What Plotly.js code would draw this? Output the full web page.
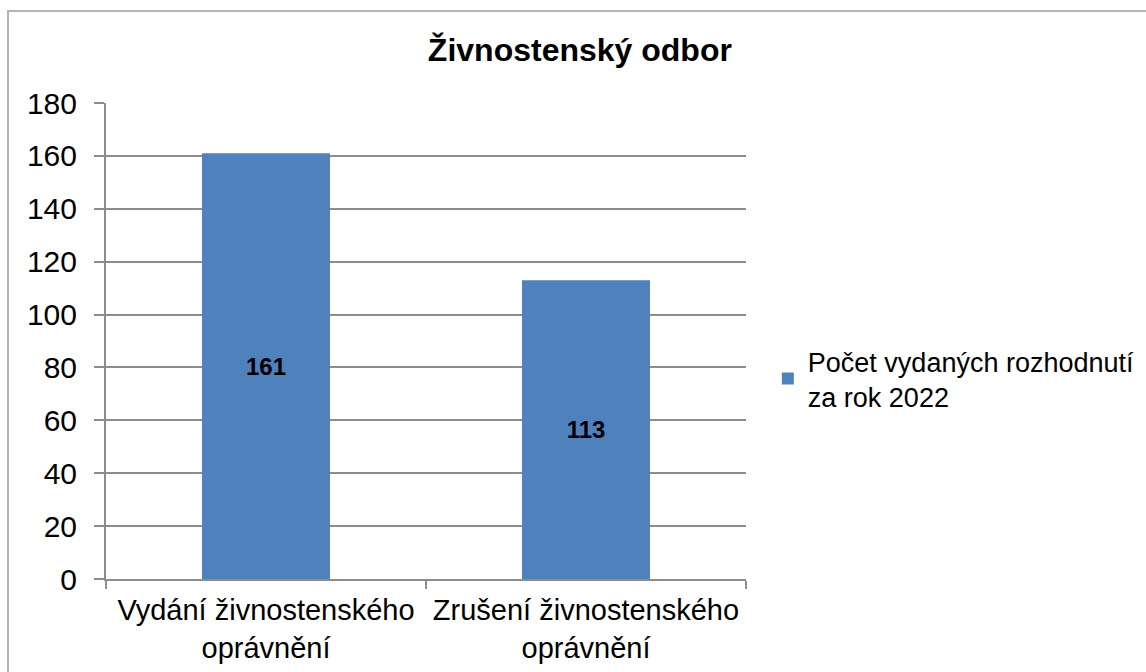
<!DOCTYPE html>
<html>
<head>
<meta charset="utf-8">
<script src="https://cdn.plot.ly/plotly-3.0.1.min.js"></script>
<style>
  html, body { margin: 0; padding: 0; background: #ffffff; }
  #chart { position: absolute; left: 0; top: 0; width: 1146px; height: 672px; }
  #frame { position: absolute; left: 7px; top: 10px; width: 1200px; height: 720px;
           border: 2px solid #b4b4b4; pointer-events: none; box-sizing: border-box; }
</style>
</head>
<body>
<div id="chart"></div>
<div id="frame"></div>
<script>
const categories = ["Vydání živnostenského<br>oprávnění", "Zrušení živnostenského<br>oprávnění"];
const values = [161, 113];
const seriesName = "Počet vydaných rozhodnutí<br>za rok 2022";
const chartTitle = "Živnostenský odbor";

const FONT = "Liberation Sans, Arial, sans-serif";

const trace = {
  type: "bar",
  x: categories,
  y: values,
  name: seriesName,
  marker: { color: "#4F81BD" },
  texttemplate: "<b>%{y}</b>",
  textposition: "inside",
  insidetextanchor: "middle",
  textangle: 0,
  textfont: { family: FONT, size: 24, color: "#000000" },
  hoverinfo: "none",
  showlegend: true
};

const layout = {
  width: 1146,
  height: 672,
  paper_bgcolor: "rgba(0,0,0,0)",
  plot_bgcolor: "#ffffff",
  margin: { l: 106, r: 400, t: 103, b: 93, pad: 0, autoexpand: false },
  font: { family: FONT, color: "#000000" },
  title: {
    text: "<b>" + chartTitle + "</b>",
    font: { family: FONT, size: 32, color: "#000000" },
    x: 0.506, xanchor: "center", xref: "container",
    y: 0.9256, yanchor: "middle", yref: "container"
  },
  bargap: 0.6,
  xaxis: {
    type: "category",
    showgrid: false,
    showline: true,
    linecolor: "#8c8c8c",
    linewidth: 2,
    ticks: "outside",
    tickson: "boundaries",
    ticklen: 8,
    tickwidth: 2,
    tickcolor: "#8c8c8c",
    ticklabelstandoff: 4,
    tickfont: { family: FONT, size: 29, color: "#000000" },
    zeroline: false,
    automargin: false,
    fixedrange: true
  },
  yaxis: {
    range: [0, 180],
    dtick: 20,
    tick0: 0,
    showgrid: true,
    gridcolor: "#8c8c8c",
    gridwidth: 2,
    showline: true,
    linecolor: "#8c8c8c",
    linewidth: 2,
    ticks: "outside",
    ticklen: 10,
    tickwidth: 2,
    tickcolor: "#8c8c8c",
    ticklabelstandoff: 11,
    tickfont: { family: FONT, size: 30, color: "#000000" },
    zeroline: false,
    automargin: false,
    fixedrange: true
  },
  showlegend: true,
  legend: {
    xref: "container", yref: "container",
    x: 0.670, xanchor: "left",
    y: 0.4985, yanchor: "top",
    font: { family: FONT, size: 27, color: "#000000" },
    bgcolor: "rgba(0,0,0,0)"
  }
};

Plotly.newPlot("chart", [trace], layout, { displayModeBar: false, staticPlot: true });
</script>
</body>
</html>
